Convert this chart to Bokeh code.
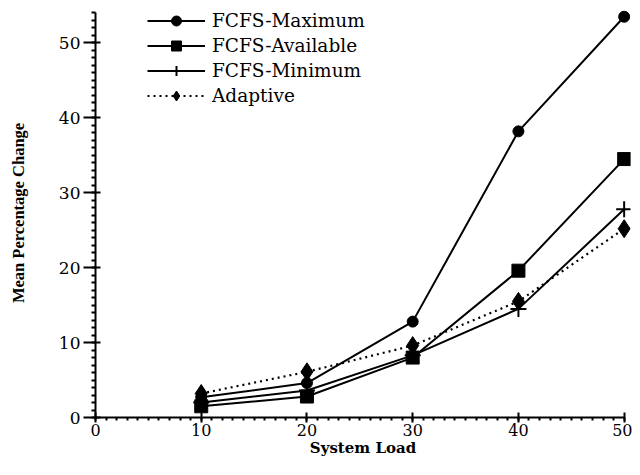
from bokeh.plotting import figure
from bokeh.embed import file_html
from bokeh.resources import INLINE
from bokeh.models import SingleIntervalTicker, Legend, LegendItem

loads = [10, 20, 30, 40, 50]
fcfs_max = [2.7, 4.6, 12.8, 38.2, 53.5]
fcfs_avail = [1.5, 2.8, 8.0, 19.6, 34.5]
fcfs_min = [2.0, 3.6, 8.3, 14.5, 27.8]
adaptive = [3.2, 6.1, 9.6, 15.5, 25.2]
x_title = "System Load"
y_title = "Mean Percentage Change"

serif = "DejaVu Serif"
serif2 = "Liberation Serif"

p = figure(width=632, height=459, x_range=(0, 50.6), y_range=(0, 54.6),
           output_backend="svg", toolbar_location=None,
           min_border_left=95, min_border_right=2, min_border_top=8,
           min_border_bottom=42)
p.outline_line_color = None
p.grid.visible = False
p.background_fill_color = "white"

black = "black"
r1l = p.line(loads, fcfs_max, line_color=black, line_width=2)
r1m = p.scatter(loads, fcfs_max, marker="circle", size=11, color=black)
r2l = p.line(loads, fcfs_avail, line_color=black, line_width=2)
r2m = p.scatter(loads, fcfs_avail, marker="square", size=13, color=black)
r3l = p.line(loads, fcfs_min, line_color=black, line_width=2)
r3m = p.scatter(loads, fcfs_min, marker="cross", size=16, line_color=black, line_width=2)
r4l = p.line(loads, adaptive, line_color=black, line_width=2.2, line_dash="2 4")
r4m = p.scatter(loads, adaptive, marker="diamond", size=18, color=black)

legend = Legend(items=[
    LegendItem(label="FCFS-Maximum", renderers=[r1l, r1m]),
    LegendItem(label="FCFS-Available", renderers=[r2l, r2m]),
    LegendItem(label="FCFS-Minimum", renderers=[r3l, r3m]),
    LegendItem(label="Adaptive", renderers=[r4l, r4m]),
], location=(52, 309))
legend.background_fill_alpha = 0
legend.border_line_color = None
legend.padding = 0
legend.margin = 0
legend.spacing = 0
legend.glyph_width = 58
legend.glyph_height = 25
legend.label_height = 25
legend.label_standoff = 7
legend.label_text_font = serif
legend.label_text_font_size = "18.5px"
legend.label_text_color = black
p.add_layout(legend, "center")

for ax in (p.xaxis[0], p.yaxis[0]):
    ax.ticker = SingleIntervalTicker(interval=10, num_minor_ticks=10)
    ax.axis_line_width = 2
    ax.axis_line_color = black
    ax.major_tick_line_width = 2
    ax.major_tick_line_color = black
    ax.major_tick_in = 5
    ax.minor_tick_line_width = 2
    ax.minor_tick_line_color = black
    ax.minor_tick_in = 0
    ax.major_label_text_font = serif
    ax.major_label_text_color = black
    ax.axis_label_text_font_style = "bold"
    ax.axis_label_text_color = black

p.xaxis[0].bounds = (0, 50)
p.yaxis[0].bounds = (0, 54)
p.xaxis[0].major_tick_out = 5
p.xaxis[0].minor_tick_out = 3
p.yaxis[0].major_tick_out = 12
p.yaxis[0].minor_tick_out = 4
p.xaxis[0].major_label_standoff = 1
p.yaxis[0].major_label_standoff = 3
p.xaxis[0].major_label_text_font_size = "16px"
p.yaxis[0].major_label_text_font_size = "17px"

p.xaxis[0].axis_label = x_title
p.xaxis[0].axis_label_text_font = serif
p.xaxis[0].axis_label_text_font_size = "15px"
p.xaxis[0].axis_label_standoff = 0

p.yaxis[0].axis_label = y_title
p.yaxis[0].axis_label_text_font = serif2
p.yaxis[0].axis_label_text_font_size = "16.5px"
p.yaxis[0].axis_label_standoff = 28

open("out.html", "w").write(file_html(p, INLINE))
